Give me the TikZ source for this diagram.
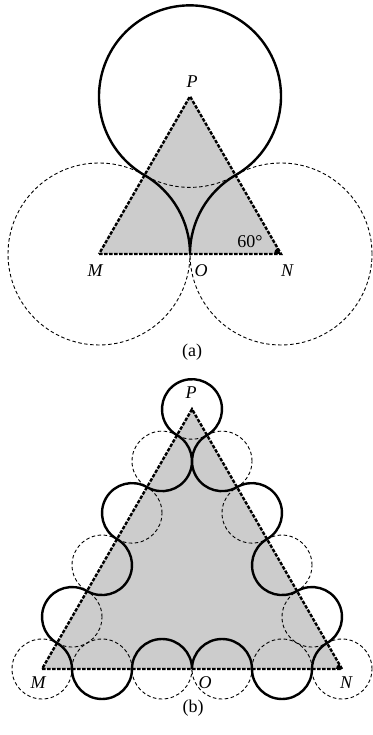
\documentclass[tikz,border=0pt]{standalone}
\usepackage{fontspec}
\setmainfont{Liberation Serif}
\begin{document}
\begin{tikzpicture}[x=1pt,y=1pt,
  tri/.style={line width=2.4pt, dash pattern=on 3.5pt off 1.5pt},
  dcirc/.style={line width=0.9pt, dash pattern=on 3.5pt off 2.5pt},
  curve/.style={line width=2.4pt, line join=round},
  lab/.style={font=\fontsize{18}{18}\selectfont\itshape, inner sep=0pt},
  captxt/.style={font=\fontsize{18}{18}\selectfont, inner sep=0pt}]
\useasboundingbox (0,0) rectangle (372,735);

% ---------------- (a) ----------------
\def\ra{91}
\coordinate (Ma) at (99,481);
\coordinate (Na) at (281,481);
\coordinate (Oa) at (190,481);
\coordinate (Pa) at (190,638.6);
\fill[black!20] (Ma) -- (Na) -- (Pa) -- cycle;
\foreach \c in {Ma,Na,Pa} \draw[dcirc] (\c) circle[radius=\ra];
\draw[tri] (Ma) -- (Na) -- (Pa) -- cycle;
\fill (Na) -- ++(180:7) arc[start angle=180,end angle=120,radius=7] -- cycle;
\draw[curve] (Oa) arc[start angle=180,end angle=120,radius=\ra]
  arc[start angle=-60,end angle=240,radius=\ra]
  arc[start angle=60,end angle=0,radius=\ra];
\node[lab] (lPa) at (192,653) {P};
\node[lab] (lMa) at (95,464) {M};
\node[lab] (lOa) at (201,464) {O};
\node[lab] (lNa) at (287,464) {N};
\node[captxt] (l60) at (250,493) {60°};
\node[captxt] (capa) at (192,383) {(a)};

% ---------------- (b) ----------------
\def\rb{30}
\coordinate (Mb) at (42,66);
\coordinate (Nb) at (342,66);
\coordinate (Ob) at (192,66);
\coordinate (Pb) at (192,325.81);
\fill[black!20] (Mb) -- (Nb) -- (Pb) -- cycle;
\foreach \k in {0,...,5} \draw[dcirc] ({42+60*\k},66) circle[radius=\rb];
\foreach \k in {1,...,4} {
  \draw[dcirc] ({342-30*\k},{66+51.9615*\k}) circle[radius=\rb];
  \draw[dcirc] ({192-30*\k},{325.81-51.9615*\k}) circle[radius=\rb];
}
\draw[dcirc] (Pb) circle[radius=\rb];
\draw[tri] (Mb) -- (Nb) -- (Pb) -- cycle;
\fill (Nb) -- ++(180:6) arc[start angle=180,end angle=120,radius=6] -- cycle;
\draw[curve] (Ob)
  arc[start angle=180,end angle=0,radius=\rb]
  arc[start angle=180,end angle=360,radius=\rb]
  arc[start angle=180,end angle=120,radius=\rb]
  arc[start angle=-60,end angle=120,radius=\rb]
  arc[start angle=300,end angle=120,radius=\rb]
  arc[start angle=-60,end angle=120,radius=\rb]
  arc[start angle=300,end angle=120,radius=\rb]
  arc[start angle=-60,end angle=240,radius=\rb]
  arc[start angle=60,end angle=-120,radius=\rb]
  arc[start angle=60,end angle=240,radius=\rb]
  arc[start angle=60,end angle=-120,radius=\rb]
  arc[start angle=60,end angle=240,radius=\rb]
  arc[start angle=60,end angle=0,radius=\rb]
  arc[start angle=180,end angle=360,radius=\rb]
  arc[start angle=180,end angle=0,radius=\rb];
\node[lab] (lPb) at (191,342) {P};
\node[lab] (lMb) at (38,52) {M};
\node[lab] (lOb) at (205,52) {O};
\node[lab] (lNb) at (346,52) {N};
\node[captxt] (capb) at (193,27) {(b)};
\end{tikzpicture}
\end{document}
